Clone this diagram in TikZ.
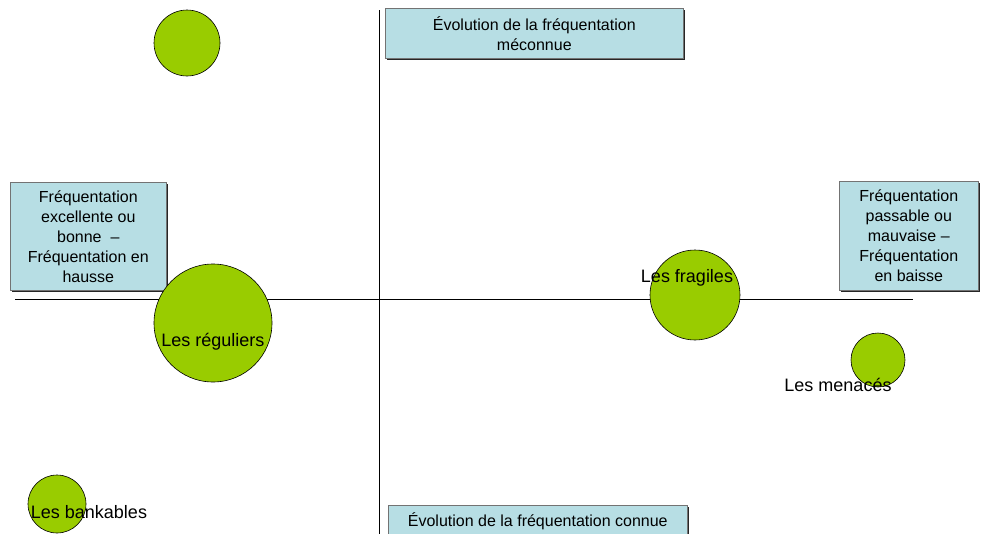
\documentclass[tikz,border=0pt]{standalone}
\usepackage{fontspec}
\setmainfont{Liberation Sans}
\usetikzlibrary{shadows}
\definecolor{boxfill}{RGB}{183,222,228}
\definecolor{bubblefill}{RGB}{153,204,0}
\tikzset{
  axisline/.style={draw=black, line width=0.8pt},
  infobox/.style={draw=black!55, line width=0.6pt, fill=boxfill, inner sep=0pt,
    align=center, font=\fontsize{16}{20}\selectfont,
    drop shadow={shadow xshift=1.2pt, shadow yshift=-1.2pt, fill=black!85, opacity=1}},
  bubble/.style={circle, draw=black, line width=0.6pt, fill=bubblefill, inner sep=0pt},
  bubblelabel/.style={inner sep=0pt, font=\fontsize{18}{20}\selectfont}
}
\begin{document}
\begin{tikzpicture}[x=1pt, y=-1pt]
% Fix the frame to the reference size
\clip (0,0) rectangle (985,533);

% Draw the two axes
\coordinate (vtop) at (379,10);
\coordinate (vbot) at (379,540);
\coordinate (hleft) at (15,299);
\coordinate (hright) at (913,299);
\draw[axisline] (vtop) -- (vbot);
\draw[axisline] (hleft) -- (hright);

% Boxes at the ends of the axes
\node[infobox, anchor=north west, minimum width=298pt, minimum height=50pt] (boxtop) at (385,8)
  {Évolution de la fréquentation\\méconnue};
\node[infobox, anchor=north west, minimum width=299pt, minimum height=32pt] (boxbot) at (388,505)
  {Évolution de la fréquentation connue};
\node[infobox, anchor=north west, minimum width=156pt, minimum height=108pt] (boxleft) at (10,182)
  {Fréquentation\\excellente ou\\bonne \ –\\Fréquentation en\\hausse};
\node[infobox, anchor=north west, minimum width=139pt, minimum height=109pt] (boxright) at (839,181)
  {Fréquentation\\passable ou\\mauvaise –\\Fréquentation\\en baisse};

% The bubbles
\node[bubble, minimum size=66pt] (bubtop) at (187,43) {};
\node[bubble, minimum size=118pt] (bubreg) at (213,323) {};
\node[bubble, minimum size=90pt] (bubfrag) at (695,295) {};
\node[bubble, minimum size=54pt] (bubmen) at (878,360) {};
\node[bubble, minimum size=58pt] (bubbank) at (57,504) {};

% Bubble names
\node[bubblelabel] (labreg) at (213,342) {Les réguliers};
\node[bubblelabel] (labfrag) at (687,278) {Les fragiles};
\node[bubblelabel] (labmen) at (838,385) {Les menacés};
\node[bubblelabel] (labbank) at (89,512) {Les bankables};
\end{tikzpicture}
\end{document}
